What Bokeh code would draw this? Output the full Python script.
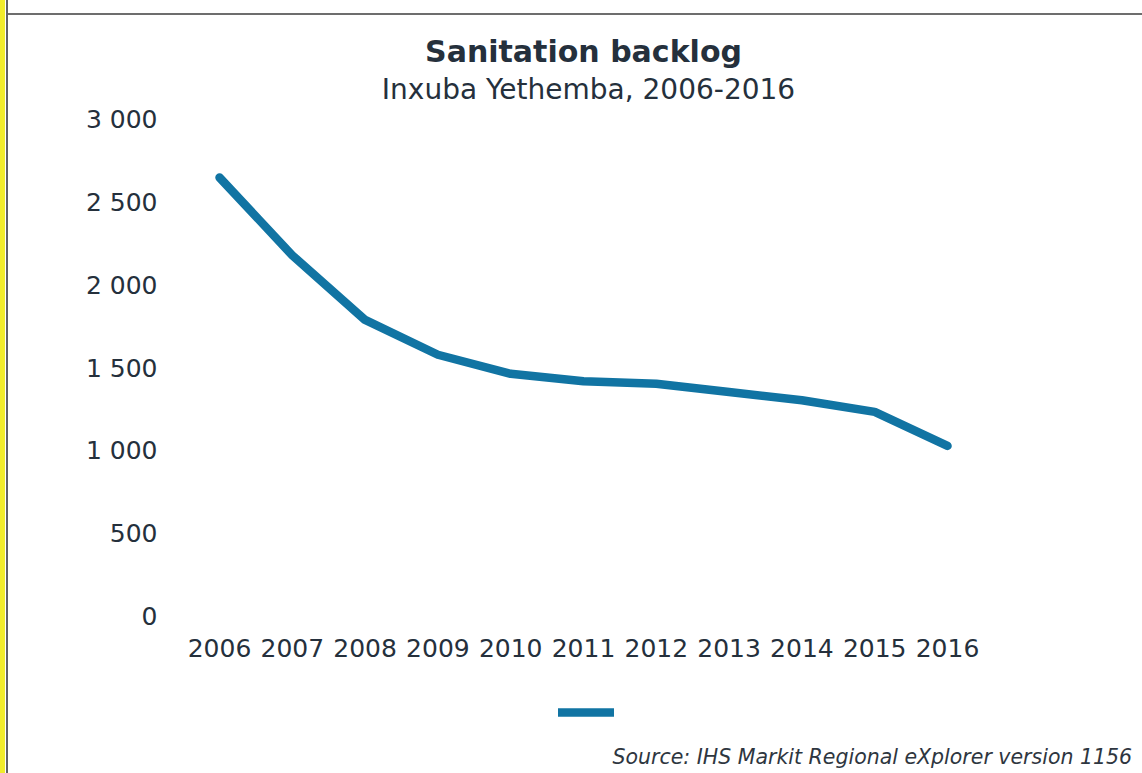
from bokeh.plotting import figure
from bokeh.models import Range1d, FixedTicker, Label, Legend, LegendItem, Div
from bokeh.layouts import row, column
from bokeh.embed import file_html
from bokeh.resources import INLINE

# ---------------- data ----------------
years = [2006, 2007, 2008, 2009, 2010, 2011, 2012, 2013, 2014, 2015, 2016]
backlog = [2650, 2180, 1790, 1580, 1465, 1420, 1405, 1355, 1305, 1235, 1030]
y_ticks = [0, 500, 1000, 1500, 2000, 2500, 3000]
y_tick_labels = ["0", "500", "1 000", "1 500", "2 000", "2 500", "3 000"]
x_tick_labels = [str(y) for y in years]
title_text = "Sanitation backlog"
subtitle_text = "Inxuba Yethemba, 2006-2016"
source_text = "Source: IHS Markit Regional eXplorer version 1156"
series_name = " "

# ---------------- layout (pixels) ----------------
W, H = 1142, 773
OX, OY = 8, 15              # figure origin on the page
FW, FH = W - OX, H - OY     # the plot frame fills the whole figure

# pixel anchors (figure coords) of first/last year and first/last tick
x0px, x1px = 219 - OX, 947 - OX
y0px, y1px = 616 - OY, 119 - OY

ppx = (x1px - x0px) / (years[-1] - years[0])
x_start = years[0] - x0px / ppx
x_end = years[-1] + (FW - x1px) / ppx
ppy = (y0px - y1px) / (y_ticks[-1] - y_ticks[0])
y_start = y_ticks[0] - (FH - y0px) / ppy
y_end = y_ticks[-1] + y1px / ppy


def dx(px):
    return x_start + px / ppx


def dy(py):
    return y_start + (FH - py) / ppy


TEXT = "#25303c"
LINE = "#1174a3"
FONT = "DejaVu Sans"

p = figure(width=FW, height=FH,
           x_range=Range1d(x_start, x_end), y_range=Range1d(y_start, y_end),
           output_backend="svg", toolbar_location=None,
           min_border_left=0, min_border_right=0,
           min_border_top=0, min_border_bottom=0)
p.background_fill_color = "white"
p.border_fill_color = "white"
p.outline_line_color = None
p.grid.visible = False

r = p.line(years, backlog, line_width=8.5, line_color=LINE,
           line_cap="round", line_join="round")

for ax in (p.xaxis[0], p.yaxis[0]):
    ax.axis_line_color = None
    ax.major_tick_line_color = None
    ax.minor_tick_line_color = None
    ax.major_tick_in = 0
    ax.major_tick_out = 0
    ax.major_label_text_font = FONT
    ax.major_label_text_font_size = "25px"
    ax.major_label_text_color = TEXT

p.xaxis.ticker = FixedTicker(ticks=years)
p.xaxis.major_label_overrides = {y: l for y, l in zip(years, x_tick_labels)}
p.xaxis.major_label_standoff = 8
p.xaxis.fixed_location = dy(630 - OY)
p.yaxis.ticker = FixedTicker(ticks=y_ticks)
p.yaxis.major_label_overrides = {t: l for t, l in zip(y_ticks, y_tick_labels)}
p.yaxis.major_label_standoff = 23
p.yaxis.fixed_location = dx(180 - OX)

p.add_layout(Label(x=dx(583 - OX), y=dy(51 - OY), text=title_text,
                   text_align="center", text_baseline="alphabetic",
                   text_font=FONT, text_font_style="bold",
                   text_font_size="30px", text_color=TEXT))
p.add_layout(Label(x=dx(588 - OX), y=dy(89 - OY), text=subtitle_text,
                   text_align="center", text_baseline="alphabetic",
                   text_font=FONT, text_font_size="28px", text_color=TEXT))
p.add_layout(Label(x=dx(612 - OX), y=dy(756 - OY), text=source_text,
                   text_align="left", text_baseline="alphabetic",
                   text_font=FONT, text_font_style="italic",
                   text_font_size="20.5px", text_color="#2e3640"))

legend = Legend(items=[LegendItem(label=series_name, renderers=[r])],
                location=(558 - OX, FH - (717 - OY)), orientation="horizontal",
                padding=0, margin=0, spacing=0, glyph_width=56, glyph_height=10,
                label_standoff=0, label_width=0, label_height=0,
                label_text_font_size="1px", border_line_color=None,
                background_fill_alpha=0)
p.add_layout(legend, "center")

yellow = Div(width=5, height=H, margin=0, styles={"background-color": "#f1ec2c"})
gap = Div(width=1, height=H, margin=0, styles={"background-color": "#ffffff"})
edge = Div(width=2, height=H, margin=0, styles={"background-color": "#5f6166"})
topspace = Div(width=FW, height=13, margin=0, styles={"background-color": "#ffffff"})
topline = Div(width=FW, height=2, margin=0, styles={"background-color": "#6d6d6d"})

page = row(yellow, gap, edge, column(topspace, topline, p, spacing=0), spacing=0)

open("out.html", "w").write(file_html(page, INLINE))
